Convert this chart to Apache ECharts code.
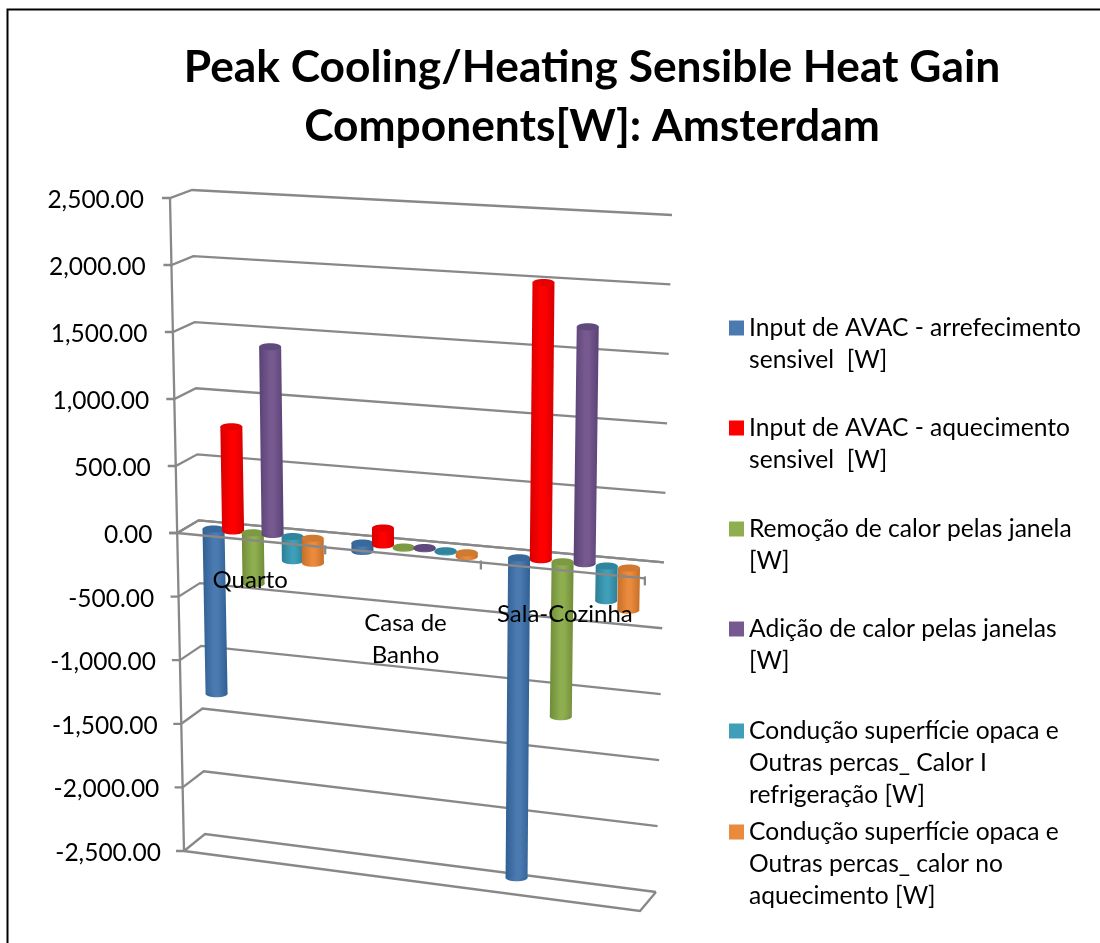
<!DOCTYPE html>
<html><head><meta charset="utf-8">
<style>html,body{margin:0;padding:0;background:#fff}#c{width:1100px;height:943px}</style>
<script src="https://cdn.jsdelivr.net/npm/echarts@6/dist/echarts.min.js"></script>
</head><body><div id="c"></div>
<script>
const categories = ['Quarto', 'Casa de\nBanho', 'Sala-Cozinha'];
const upperTicks = [0, 500, 1000, 1500, 2000, 2500];
const lowerTicks = [-2500, -2000, -1500, -1000, -500, 0];
const coolingInput = [-1300, -65, -2450];
const heatingInput = [780, 125, 2010];
const windowRemoval = [-400, -10, -1180];
const windowGain = [1400, 10, 1710];
const opaqueCooling = [-190, -10, -265];
const opaqueHeating = [-195, -30, -320];

const seriesNames = [
  'Input de AVAC - arrefecimento\nsensivel  [W]',
  'Input de AVAC - aquecimento\nsensivel  [W]',
  'Remoção de calor pelas janela\n[W]',
  'Adição de calor pelas janelas\n[W]',
  'Condução superfície opaca e\nOutras percas_ Calor I\nrefrigeração [W]',
  'Condução superfície opaca e\nOutras percas_ calor no\naquecimento [W]'
];
const seriesValues = [coolingInput, heatingInput, windowRemoval, windowGain, opaqueCooling, opaqueHeating];
const seriesColors = ['#4a7ab0', '#ff0000', '#8fae50', '#76598f', '#3f9fb8', '#ea8a3c'];
const edgeColors = ['#2f5f92', '#d60000', '#6f8c38', '#5a4275', '#2c7e96', '#c56f28'];
const capColors = ['#38699c', '#e80000', '#7c9a42', '#5e4a7c', '#30859d', '#d07a30'];

const GL = 178, GW = 469, GT = 198, GB = 851, GZ = 533;
// perspective box corners: Front/Back, Top/Bottom, Left/Right
const FTL = [170, 198], FBL = [184, 851], FTR = [650, 228], FBR = [640, 911];
const BTL = [192, 190], BBL = [205, 834], BTR = [672, 215], BBR = [656, 892];
const lerp = (a, b, k) => a + (b - a) * k;
const lerp2 = (a, b, k) => [lerp(a[0], b[0], k), lerp(a[1], b[1], k)];
function project(px, py, d) {
  let u = (px - GL) / GW;
  u = u / (1 + 0.08 * (1 - u));
  const t = (py - GT) / (GB - GT);
  const fl = lerp2(FTL, FBL, t), fr = lerp2(FTR, FBR, t);
  const bl = lerp2(BTL, BBL, t), br = lerp2(BTR, BBR, t);
  return lerp2(lerp2(fl, fr, u), lerp2(bl, br, u), d);
}
const LINE = { stroke: '#888888', lineWidth: 2.3, fill: null };
const poly = pts => ({ type: 'polyline', shape: { points: pts }, style: LINE });

function wallItem(ticks) {
  return function (params, api) {
    const v = api.value(1);
    const i = ticks.indexOf(v);
    const c = api.coord([0, v]);
    const kids = [];
    const px0 = GL, px1 = GL + GW;
    const a = project(px0, c[1], 0), b = project(px0, c[1], 1), e = project(px1, c[1], 1);
    kids.push(poly([[a[0] - 8, a[1]], a, b, e]));
    if (i < ticks.length - 1) {
      const n = api.coord([0, ticks[i + 1]]);
      kids.push(poly([a, project(px0, n[1], 0)]));
    }
    if (v === ticks[0] && v < 0) {
      const f = project(px1, c[1], 0);
      kids.push(poly([a, f, e]));
    }
    return { type: 'group', children: kids };
  };
}
function zeroFront(params, api) {
  const c = api.coord([0, 0]);
  const kids = [poly([project(GL, c[1], 0), project(GL + GW, c[1], 0)])];
  [1, 2, 3].forEach(i => {
    const p = project(GL + i * GW / 3, c[1], 0);
    kids.push(poly([[p[0], p[1] - 2], [p[0], p[1] + 7]]));
  });
  return { type: 'group', children: kids };
}
function barItem(s) {
  return function (params, api) {
    const x = api.coord([api.value(0), 0])[0] + 2 + (s - 2.5) * 21;
    const zero = api.coord([api.value(0), 0])[1];
    const end = api.coord([api.value(0), api.value(1)])[1];
    const p0 = project(x, Math.min(zero, end), 0.5);
    const p1 = project(x, Math.max(zero, end), 0.5);
    const rx = 11, ry = 3.5;
    const grad = new echarts.graphic.LinearGradient(0, 0, 1, 0, [
      { offset: 0, color: edgeColors[s] },
      { offset: 0.45, color: seriesColors[s] },
      { offset: 0.6, color: seriesColors[s] },
      { offset: 1, color: edgeColors[s] }
    ]);
    return {
      type: 'group', children: [
        { type: 'ellipse', shape: { cx: p1[0], cy: p1[1], rx, ry }, style: { fill: grad } },
        { type: 'polygon', shape: { points: [[p0[0] - rx, p0[1]], [p0[0] + rx, p0[1]], [p1[0] + rx, p1[1]], [p1[0] - rx, p1[1]]] }, style: { fill: grad } },
        { type: 'ellipse', shape: { cx: p0[0], cy: p0[1], rx, ry }, style: { fill: capColors[s] } }
      ]
    };
  };
}
const money = v => v.toLocaleString('en-US', { minimumFractionDigits: 2, maximumFractionDigits: 2 });
const tickKey = v => 't' + (v + 2500);
const tickRich = {};
upperTicks.concat(lowerTicks).forEach(v => {
  tickRich[tickKey(v)] = { padding: [4, (v + 2500) / 5000 * 17, 0, 0], fontFamily: 'Lato', fontSize: 24.5, color: '#000' };
});
const yLabel = { margin: 17, color: '#000', fontFamily: 'Lato', fontSize: 24.5, formatter: v => '{' + tickKey(v) + '|' + money(v) + '}', rich: tickRich };
const catFont = { fontFamily: 'Lato', fontSize: 24, lineHeight: 32, color: '#000' };
const catRich = {
  c0: Object.assign({ padding: [26, 12, 0, 0] }, catFont),
  sp: { fontSize: 10, lineHeight: 56, height: 56 },
  c1: Object.assign({ padding: [0, 14, 0, 0] }, catFont),
  c2: Object.assign({ padding: [94, 8, 0, 0] }, catFont)
};
const catLines = [['{c0|Quarto}'], ['{sp| }', '{c1|Casa de}', '{c1|Banho}'], ['{c2|Sala-Cozinha}']];
const hiddenX = { type: 'category', data: categories, show: false };
const legendTops = [312, 412, 513, 613, 715, 816];
const legends = seriesNames.map((n, i) => {
  const h = n.split('\n').length * 32;
  return {
    data: [n], left: 729, top: legendTops[i], orient: 'vertical', selectedMode: false, padding: 0,
    itemWidth: 15, itemHeight: h,
    icon: 'path://M0 8.5L15 8.5L15 23.5L0 23.5Z M0 0L0 0 M15 ' + h + 'L15 ' + h,
    textStyle: { fontFamily: 'Lato', fontSize: 24.6, lineHeight: 32, color: '#000' }
  };
});
const option = {
  animation: false, backgroundColor: '#fff', tooltip: { show: false },
  title: {
    text: 'Peak Cooling/Heating Sensible Heat Gain\nComponents[W]: Amsterdam',
    left: 587, top: 33, textAlign: 'center',
    textStyle: { fontFamily: 'Lato', fontWeight: 'bold', fontSize: 44.3, lineHeight: 59, color: '#000' }
  },
  legend: legends,
  grid: [
    { left: GL, width: GW, top: GT, height: GZ - GT, outerBoundsMode: 'none' },
    { left: GL, width: GW, top: GZ, height: GB - GZ, outerBoundsMode: 'none' }
  ],
  xAxis: [
    Object.assign({ gridIndex: 0 }, hiddenX),
    {
      gridIndex: 1, type: 'category', data: categories, position: 'top', z: 10,
      axisLine: { show: false }, axisTick: { show: false },
      axisLabel: {
        inside: true, interval: 0, margin: 18, hideOverlap: false,
        formatter: (v, i) => catLines[i].join('\n'),
        rich: catRich
      }
    }
  ],
  yAxis: [
    { gridIndex: 0, type: 'value', min: 0, max: 2500, interval: 500, axisLine: { show: false }, axisTick: { show: false }, splitLine: { show: false }, axisLabel: yLabel },
    { gridIndex: 1, type: 'value', min: -2500, max: 0, interval: 500, axisLine: { show: false }, axisTick: { show: false }, splitLine: { show: false }, axisLabel: Object.assign({ showMaxLabel: false }, yLabel) }
  ],
  graphic: [{ type: 'rect', silent: true, z: -1, shape: { x: 7.5, y: 9.5, width: 1200, height: 1200 }, style: { fill: 'none', stroke: '#000', lineWidth: 2 } }],
  series: [
    { type: 'custom', name: 'w1', silent: true, z: 1, xAxisIndex: 0, yAxisIndex: 0, data: upperTicks.map(v => [0, v]), renderItem: wallItem(upperTicks) },
    { type: 'custom', name: 'w2', silent: true, z: 1, xAxisIndex: 1, yAxisIndex: 1, data: lowerTicks.map(v => [0, v]), renderItem: wallItem(lowerTicks) }
  ].concat(seriesNames.map((n, s) => ({
    type: 'custom', name: n, z: 2, silent: true,
    xAxisIndex: seriesValues[s][0] > 0 ? 0 : 1, yAxisIndex: seriesValues[s][0] > 0 ? 0 : 1,
    itemStyle: { color: seriesColors[s] },
    data: seriesValues[s].map((v, i) => [i, v]), renderItem: barItem(s)
  }))).concat([
    { type: 'custom', name: 'z', silent: true, z: 3, xAxisIndex: 1, yAxisIndex: 1, data: [[0, 0]], renderItem: zeroFront }
  ])
};
echarts.init(document.getElementById('c'), null, { renderer: 'canvas' }).setOption(option);
</script></body></html>
